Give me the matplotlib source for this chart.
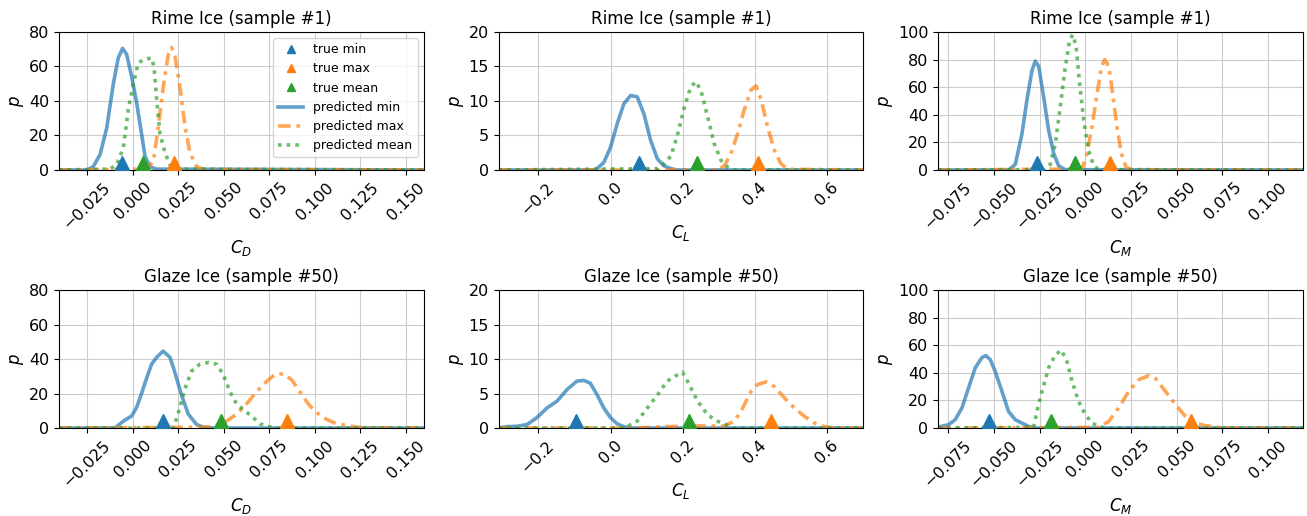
import matplotlib.pyplot as plt
from matplotlib import transforms
from matplotlib.ticker import MultipleLocator

# axis ranges of the three coefficients
cd_lim = (-0.0405, 0.16)
cl_lim = (-0.31, 0.70)
cm_lim = (-0.0805, 0.119)

# ---- Rime ice, sample #1 ----
rime_cd_min_x = [-0.0405, -0.025, -0.0216, -0.0179, -0.0143, -0.0106, -0.0079, -0.0055, -0.0033, -0.0005, 0.0022, 0.0049, 0.0068, 0.0095, 0.013, 0.16]
rime_cd_min_p = [0, 0, 2, 9, 24, 50, 65, 70.5, 67, 54, 39, 21, 8, 2, 0.5, 0]
rime_cd_max_x = [-0.0405, 0.0077, 0.0114, 0.0141, 0.0168, 0.0196, 0.0214, 0.0233, 0.026, 0.0288, 0.0315, 0.0352, 0.0388, 0.16]
rime_cd_max_p = [0, 0.5, 5, 25, 48, 67, 71, 66, 48, 25, 10, 2, 0.3, 0]
rime_cd_mean_x = [-0.0405, -0.0125, -0.0088, -0.0051, -0.0024, 0.0004, 0.0031, 0.0059, 0.0104, 0.0117, 0.0132, 0.015, 0.0178, 0.0205, 0.0233, 0.16]
rime_cd_mean_p = [0, 0.5, 3, 13, 35, 50, 62, 64, 65, 60, 41, 21, 10, 3, 0.5, 0]
rime_cd_true = [-0.006, 0.0227, 0.0059]  # min, max, mean

rime_cl_min_x = [-0.31, -0.046, -0.037, -0.0185, 0.0, 0.0185, 0.037, 0.0556, 0.074, 0.0926, 0.111, 0.13, 0.148, 0.167, 0.185, 0.70]
rime_cl_min_p = [0, 0, 0.2, 1.1, 3.3, 6.7, 9.6, 10.8, 10.6, 8.1, 4.3, 1.6, 0.6, 0.2, 0, 0]
rime_cl_max_x = [-0.31, 0.296, 0.315, 0.333, 0.352, 0.37, 0.389, 0.403, 0.417, 0.435, 0.454, 0.472, 0.491, 0.70]
rime_cl_max_p = [0, 0, 0.6, 2.3, 5.3, 8.7, 11.6, 12.2, 10.2, 6.2, 2.8, 0.9, 0.1, 0]
rime_cl_mean_x = [-0.31, 0.13, 0.148, 0.167, 0.185, 0.204, 0.222, 0.236, 0.25, 0.269, 0.287, 0.306, 0.324, 0.343, 0.70]
rime_cl_mean_p = [0, 0.2, 0.9, 2.0, 5.0, 9.0, 12.0, 12.8, 11.6, 7.7, 3.8, 1.4, 0.4, 0, 0]
rime_cl_true = [0.079, 0.409, 0.239]

rime_cm_min_x = [-0.0805, -0.042, -0.0383, -0.0347, -0.0319, -0.0292, -0.0274, -0.0255, -0.0228, -0.0201, -0.0173, -0.0146, -0.0109, 0.119]
rime_cm_min_p = [0, 0, 4, 26, 51, 72, 79, 75, 53, 29, 12, 3, 0.2, 0]
rime_cm_max_x = [-0.0805, -0.0018, 0.0009, 0.0036, 0.0064, 0.0088, 0.0106, 0.0128, 0.015, 0.0173, 0.0197, 0.0223, 0.0255, 0.119]
rime_cm_max_p = [0, 0.7, 12, 31, 55, 75, 80, 75, 55, 31, 12, 2, 0, 0]
rime_cm_mean_x = [-0.0805, -0.0219, -0.0192, -0.0164, -0.0137, -0.0109, -0.0086, -0.0069, -0.0051, -0.0033, -0.0009, 0.0018, 0.0046, 0.0073, 0.119]
rime_cm_mean_p = [0, 0.3, 4, 19, 46, 75, 94, 98, 90, 65, 36, 14, 3, 0.3, 0]
rime_cm_true = [-0.0265, 0.0137, -0.0058]

# ---- Glaze ice, sample #50 ----
glaze_cd_min_x = [-0.0405, -0.0097, -0.0051, -0.0005, 0.0022, 0.0049, 0.0077, 0.0104, 0.0132, 0.0168, 0.0205, 0.0224, 0.0269, 0.0306, 0.0352, 0.0388, 0.0443, 0.16]
glaze_cd_min_p = [0, 0, 4, 7, 12, 20, 29, 37, 41, 44.6, 41, 35, 19, 8, 2, 0.5, 0, 0]
glaze_cd_max_x = [-0.0405, 0.0443, 0.0516, 0.0571, 0.0626, 0.0681, 0.0736, 0.0782, 0.0828, 0.0874, 0.0919, 0.0965, 0.1011, 0.1066, 0.1121, 0.1176, 0.1231, 0.1286, 0.16]
glaze_cd_max_p = [0, 0.5, 4, 8, 14, 21, 27, 31, 31.5, 28, 21, 14, 9, 5, 2.5, 1.5, 0.5, 0, 0]
glaze_cd_mean_x = [-0.0405, 0.0225, 0.026, 0.0288, 0.0324, 0.037, 0.0416, 0.0462, 0.0498, 0.0535, 0.0571, 0.0617, 0.0663, 0.07, 0.0736, 0.0791, 0.16]
glaze_cd_mean_p = [0, 0, 12, 23, 33, 37, 38, 37, 31, 21, 14, 10, 6, 2.5, 1, 0, 0]
glaze_cd_true = [0.0168, 0.085, 0.0484]

glaze_cl_min_x = [-0.31, -0.287, -0.259, -0.231, -0.204, -0.176, -0.148, -0.12, -0.093, -0.074, -0.056, -0.037, -0.0185, 0.0, 0.0185, 0.037, 0.056, 0.70]
glaze_cl_min_p = [0, 0.2, 0.25, 0.5, 1.5, 2.9, 3.9, 5.6, 6.8, 6.9, 6.5, 4.8, 2.9, 1.5, 0.6, 0.2, 0, 0]
glaze_cl_max_x = [-0.31, 0.074, 0.148, 0.241, 0.315, 0.343, 0.361, 0.389, 0.407, 0.431, 0.454, 0.481, 0.509, 0.537, 0.565, 0.593, 0.62, 0.70]
glaze_cl_max_p = [0, 0, 0.2, 0.3, 0.3, 1.0, 2.4, 5.3, 6.3, 6.7, 6.0, 4.4, 2.9, 1.7, 0.7, 0.2, 0, 0]
glaze_cl_mean_x = [-0.31, 0.037, 0.056, 0.074, 0.102, 0.13, 0.157, 0.185, 0.199, 0.213, 0.241, 0.269, 0.296, 0.319, 0.338, 0.70]
glaze_cl_mean_p = [0, 0, 0.5, 1.0, 2.9, 4.8, 6.8, 7.7, 8.1, 6.8, 3.9, 1.9, 1.0, 0.5, 0, 0]
glaze_cl_true = [-0.095, 0.444, 0.218]

glaze_cm_min_x = [-0.0805, -0.0794, -0.0748, -0.0712, -0.0675, -0.0639, -0.0602, -0.0566, -0.0544, -0.052, -0.0493, -0.0456, -0.042, -0.0383, -0.0347, -0.031, -0.0274, 0.119]
glaze_cm_min_p = [0.8, 1, 2.4, 6, 14.5, 29, 43.6, 51, 52.5, 49.6, 41, 26.6, 12, 6, 3.6, 1.2, 0, 0]
glaze_cm_max_x = [-0.0805, 0.0073, 0.0128, 0.0182, 0.0237, 0.0292, 0.0347, 0.0383, 0.0438, 0.0493, 0.0547, 0.0602, 0.0657, 0.0712, 0.0766, 0.119]
glaze_cm_max_p = [0, 0.5, 4.8, 14.5, 26.6, 35, 38, 36, 26.6, 17, 8.5, 3.6, 1.7, 0.7, 0, 0]
glaze_cm_mean_x = [-0.0805, -0.0283, -0.0265, -0.0237, -0.0201, -0.0164, -0.0131, -0.01, -0.0073, -0.0036, 0.0, 0.0036, 0.0073, 0.011, 0.119]
glaze_cm_mean_p = [0, 0.5, 12, 26.6, 43.6, 53, 56.5, 48, 34, 19, 9.7, 3.6, 1.2, 0, 0]
glaze_cm_true = [-0.0526, 0.058, -0.0186]

panels = [
    ('Rime Ice (sample #1)', '$C_D$', cd_lim, 0.025, 80, 20,
     (rime_cd_min_x, rime_cd_min_p), (rime_cd_max_x, rime_cd_max_p), (rime_cd_mean_x, rime_cd_mean_p), rime_cd_true),
    ('Rime Ice (sample #1)', '$C_L$', cl_lim, 0.2, 20, 5,
     (rime_cl_min_x, rime_cl_min_p), (rime_cl_max_x, rime_cl_max_p), (rime_cl_mean_x, rime_cl_mean_p), rime_cl_true),
    ('Rime Ice (sample #1)', '$C_M$', cm_lim, 0.025, 100, 20,
     (rime_cm_min_x, rime_cm_min_p), (rime_cm_max_x, rime_cm_max_p), (rime_cm_mean_x, rime_cm_mean_p), rime_cm_true),
    ('Glaze Ice (sample #50)', '$C_D$', cd_lim, 0.025, 80, 20,
     (glaze_cd_min_x, glaze_cd_min_p), (glaze_cd_max_x, glaze_cd_max_p), (glaze_cd_mean_x, glaze_cd_mean_p), glaze_cd_true),
    ('Glaze Ice (sample #50)', '$C_L$', cl_lim, 0.2, 20, 5,
     (glaze_cl_min_x, glaze_cl_min_p), (glaze_cl_max_x, glaze_cl_max_p), (glaze_cl_mean_x, glaze_cl_mean_p), glaze_cl_true),
    ('Glaze Ice (sample #50)', '$C_M$', cm_lim, 0.025, 100, 20,
     (glaze_cm_min_x, glaze_cm_min_p), (glaze_cm_max_x, glaze_cm_max_p), (glaze_cm_mean_x, glaze_cm_mean_p), glaze_cm_true),
]

fig, axes = plt.subplots(2, 3, figsize=(13.07, 5.16), dpi=100)
fig.subplots_adjust(left=0.0451, right=0.9969, top=0.938, bottom=0.1705, wspace=0.205, hspace=0.87)

ms = 10.5
for ax, (title, xlab, xlim, xstep, ymax, ystep, pmin, pmax, pmean, true) in zip(axes.flat, panels):
    # lift the triangles so their base sits on p = 0
    lift = transforms.offset_copy(ax.transData, fig=fig, y=ms * 0.5, units='points')
    ax.plot([true[0]], [0], '^', color='C0', ms=ms, transform=lift, label='true min', zorder=4)
    ax.plot([true[1]], [0], '^', color='C1', ms=ms, transform=lift, label='true max', zorder=4)
    ax.plot([true[2]], [0], '^', color='C2', ms=ms, transform=lift, label='true mean', zorder=4)
    ax.plot(*pmin, '-', color='C0', lw=2.6, alpha=0.7, label='predicted min')
    ax.plot(*pmax, color='C1', lw=2.6, alpha=0.7, ls=(0, (3.5, 1.6, 1, 1.6)), label='predicted max')
    ax.plot(*pmean, color='C2', lw=2.6, alpha=0.7, ls=(0, (1, 1.4)), label='predicted mean')

    ax.set_xlim(*xlim)
    ax.xaxis.set_major_locator(MultipleLocator(xstep))
    ax.set_ylim(0, ymax)
    ax.set_yticks(range(0, ymax + 1, ystep))
    ax.grid(True, color='#cccccc', lw=0.8)
    ax.set_axisbelow(True)
    ax.tick_params(labelsize=11.5)
    plt.setp(ax.get_xticklabels(), rotation=45)
    ax.set_title(title, fontsize=12)
    ax.set_xlabel(xlab, fontsize=12)
    ax.set_ylabel('$p$', fontsize=12, labelpad=2)

axes[0, 0].legend(loc='upper right', fontsize=9, markerscale=0.55)

fig.savefig('out.png', dpi=100)
